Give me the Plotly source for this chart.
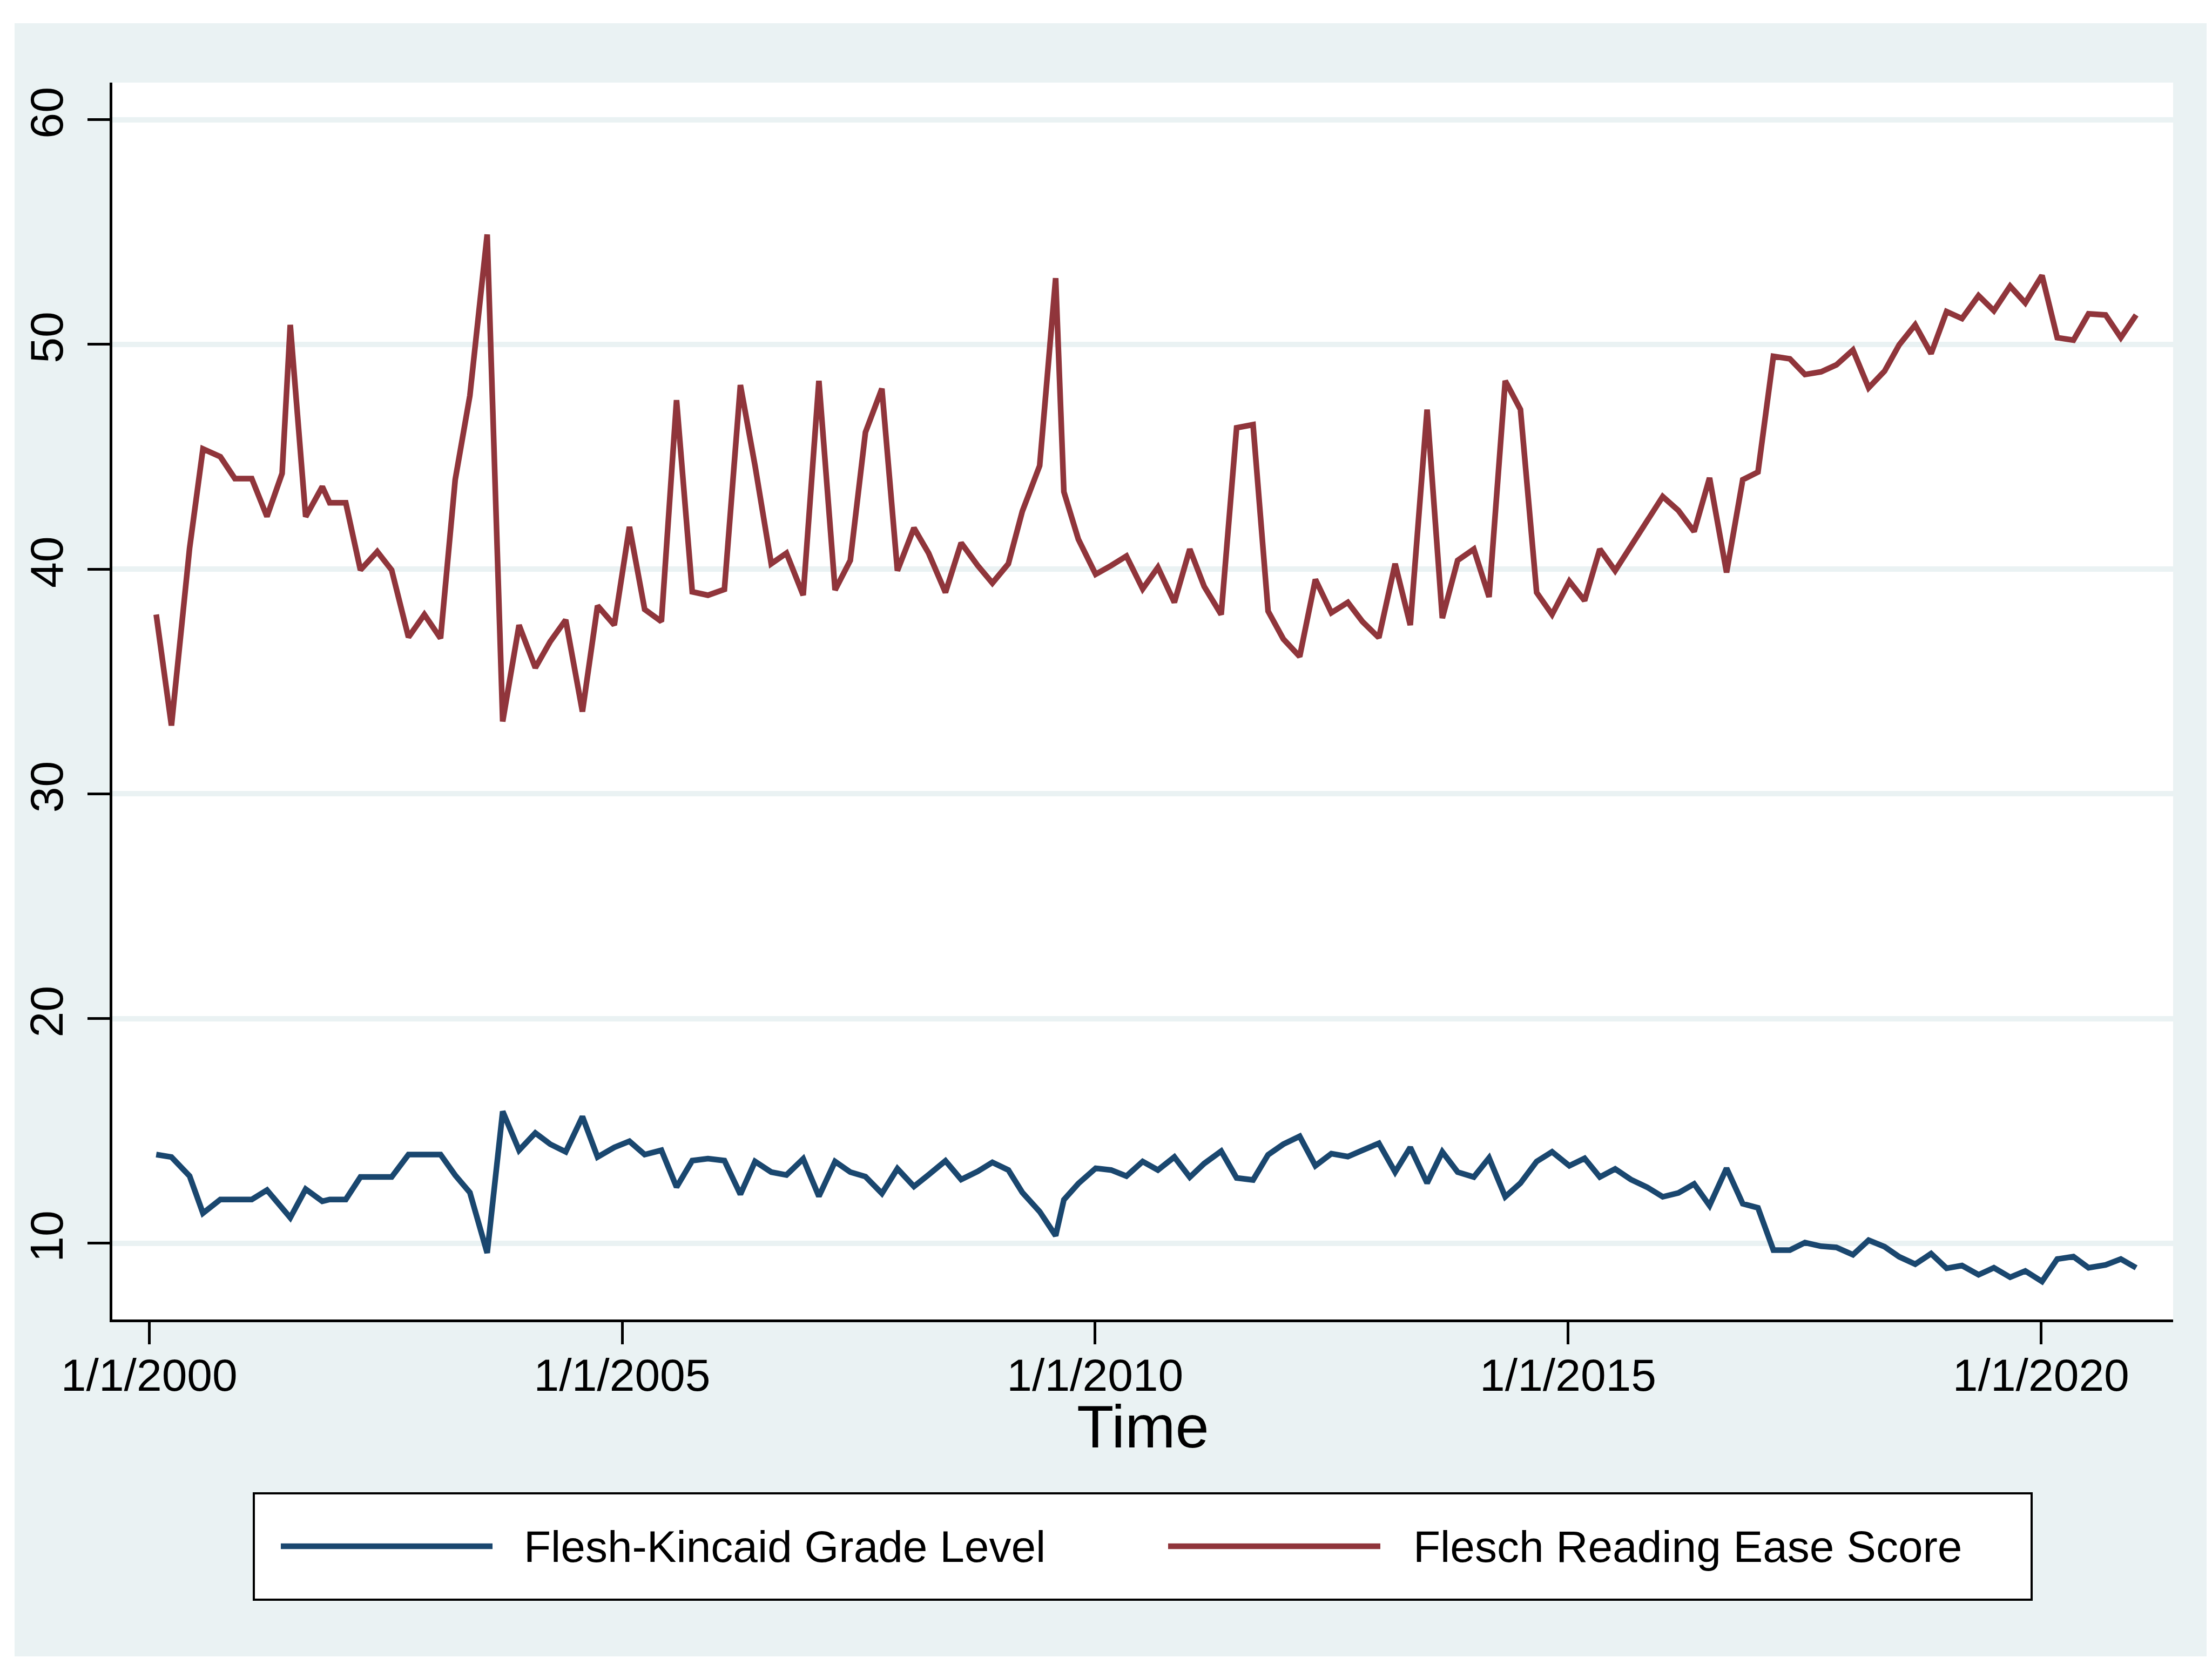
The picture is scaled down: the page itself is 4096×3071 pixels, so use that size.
import plotly.graph_objects as go

# ---------------- data ----------------
time_years = [
    2000.074, 2000.235, 2000.427, 2000.568, 2000.752, 2000.906, 2001.084, 2001.245, 2001.405, 2001.491,
    2001.654, 2001.830, 2001.908, 2002.078, 2002.233, 2002.411, 2002.563, 2002.741, 2002.909, 2003.080,
    2003.235, 2003.390, 2003.573, 2003.737, 2003.910, 2004.082, 2004.240, 2004.403, 2004.580, 2004.740,
    2004.917, 2005.077, 2005.238, 2005.415, 2005.575, 2005.741, 2005.907, 2006.081, 2006.250, 2006.405,
    2006.576, 2006.737, 2006.914, 2007.080, 2007.251, 2007.412, 2007.572, 2007.746, 2007.910, 2008.085,
    2008.240, 2008.418, 2008.584, 2008.759, 2008.914, 2009.083, 2009.231, 2009.414, 2009.583, 2009.670,
    2009.823, 2010.006, 2010.170, 2010.331, 2010.503, 2010.664, 2010.838, 2011.001, 2011.153, 2011.333,
    2011.496, 2011.670, 2011.829, 2011.990, 2012.163, 2012.329, 2012.498, 2012.672, 2012.826, 2013.000,
    2013.172, 2013.332, 2013.510, 2013.671, 2013.833, 2014.004, 2014.165, 2014.336, 2014.497, 2014.668,
    2014.831, 2015.014, 2015.175, 2015.336, 2015.498, 2015.664, 2015.839, 2016.001, 2016.167, 2016.333,
    2016.496, 2016.676, 2016.847, 2017.008, 2017.171, 2017.345, 2017.505, 2017.675, 2017.837, 2018.012,
    2018.178, 2018.346, 2018.501, 2018.670, 2018.838, 2019.002, 2019.165, 2019.340, 2019.502, 2019.674,
    2019.834, 2020.011, 2020.172, 2020.343, 2020.503, 2020.683, 2020.844, 2021.006,
]

flesh_kincaid_grade = [
    13.95, 13.84, 12.99, 11.34, 11.95, 11.95, 11.95, 12.37, 11.60, 11.14,
    12.41, 11.87, 11.95, 11.95, 12.95, 12.95, 12.95, 13.95, 13.95, 13.95,
    13.03, 12.26, 9.57, 15.87, 14.14, 14.91, 14.41, 14.07, 15.64, 13.84,
    14.27, 14.54, 13.95, 14.14, 12.50, 13.68, 13.77, 13.68, 12.18, 13.64,
    13.17, 13.04, 13.76, 12.09, 13.64, 13.17, 12.97, 12.22, 13.32, 12.53,
    13.05, 13.67, 12.84, 13.20, 13.60, 13.26, 12.26, 11.41, 10.34, 11.94,
    12.66, 13.34, 13.26, 12.99, 13.64, 13.26, 13.84, 12.94, 13.55, 14.10,
    12.91, 12.82, 13.94, 14.41, 14.76, 13.45, 13.99, 13.86, 14.14, 14.45,
    13.17, 14.27, 12.68, 14.07, 13.17, 12.95, 13.80, 12.07, 12.68, 13.64,
    14.07, 13.45, 13.78, 12.95, 13.31, 12.84, 12.49, 12.07, 12.24, 12.64,
    11.68, 13.34, 11.76, 11.58, 9.70, 9.70, 10.03, 9.87, 9.82, 9.49,
    10.14, 9.85, 9.40, 9.07, 9.54, 8.89, 9.01, 8.60, 8.91, 8.49,
    8.77, 8.30, 9.30, 9.41, 8.91, 9.04, 9.30, 8.91,
]

flesch_reading_ease = [
    37.98, 33.04, 40.94, 45.35, 45.00, 44.03, 44.03, 42.34, 44.26, 50.87,
    42.33, 43.67, 42.95, 42.95, 39.96, 40.78, 39.96, 36.97, 37.98, 36.92,
    43.98, 47.72, 54.89, 33.22, 37.51, 35.61, 36.78, 37.74, 33.66, 38.37,
    37.51, 41.88, 38.21, 37.67, 47.52, 38.99, 38.84, 39.10, 48.19, 44.60,
    40.24, 40.71, 38.84, 48.38, 39.07, 40.39, 46.09, 48.03, 39.93, 41.83,
    40.71, 38.96, 41.17, 40.16, 39.38, 40.24, 42.58, 44.60, 52.95, 43.44,
    41.33, 39.77, 40.16, 40.58, 39.12, 40.08, 38.52, 40.89, 39.23, 37.98,
    46.29, 46.43, 38.13, 36.89, 36.11, 39.54, 38.06, 38.52, 37.67, 36.95,
    40.24, 37.51, 47.10, 37.82, 40.39, 40.89, 38.76, 48.38, 47.10, 38.96,
    37.98, 39.46, 38.60, 40.89, 39.93, 41.02, 42.11, 43.23, 42.61, 41.67,
    44.06, 39.85, 43.98, 44.32, 49.47, 49.36, 48.66, 48.78, 49.09, 49.75,
    48.07, 48.81, 49.98, 50.87, 49.59, 51.46, 51.15, 52.17, 51.50, 52.59,
    51.85, 53.07, 50.30, 50.19, 51.36, 51.31, 50.30, 51.31,
]

x_tick_vals = [2000, 2005, 2010, 2015, 2020]
x_tick_text = ["1/1/2000", "1/1/2005", "1/1/2010", "1/1/2015", "1/1/2020"]
y_tick_vals = [10, 20, 30, 40, 50, 60]
series_names = ["Flesh-Kincaid Grade Level", "Flesch Reading Ease Score"]
x_title = "Time"

# ---------------- style ----------------
W, H = 4096, 3071
L, R, T, B = 200, 80, 145, 635
PW, PH = W - L - R, H - T - B
BLUE = "#1A476F"
RED = "#90353B"
BG = "#EAF2F3"
FONT = "Liberation Sans, Arial, sans-serif"
LW = 10.5


def px(xp):
    return (xp - L) / PW


def py(yp):
    return (H - B - yp) / PH


fig = go.Figure()
fig.add_trace(go.Scatter(x=time_years, y=flesh_kincaid_grade, mode="lines",
                         name=series_names[0], line=dict(color=BLUE, width=LW),
                         showlegend=False))
fig.add_trace(go.Scatter(x=time_years, y=flesch_reading_ease, mode="lines",
                         name=series_names[1], line=dict(color=RED, width=LW),
                         showlegend=False))

shapes = [
    # graph region background
    dict(type="rect", xref="paper", yref="paper", layer="below",
         x0=px(19), x1=px(4078), y0=py(35), y1=py(3060),
         fillcolor=BG, line=dict(width=0)),
    # white plot region
    dict(type="rect", xref="paper", yref="paper", layer="below",
         x0=0, x1=1, y0=0, y1=1,
         fillcolor="white", line=dict(width=0)),
    # legend box
    dict(type="rect", xref="paper", yref="paper",
         x0=px(462), x1=px(3754), y0=py(2758), y1=py(2955),
         fillcolor="white", line=dict(color="black", width=4)),
    # legend keys
    dict(type="line", xref="paper", yref="paper",
         x0=px(512), x1=px(904), y0=py(2856), y1=py(2856),
         line=dict(color=BLUE, width=LW)),
    dict(type="line", xref="paper", yref="paper",
         x0=px(2155), x1=px(2548), y0=py(2856), y1=py(2856),
         line=dict(color=RED, width=LW)),
]

annotations = [
    dict(text=series_names[0], xref="paper", yref="paper", x=px(960), y=py(2856),
         xanchor="left", yanchor="middle", showarrow=False,
         font=dict(family=FONT, size=82, color="black")),
    dict(text=series_names[1], xref="paper", yref="paper", x=px(2607), y=py(2856),
         xanchor="left", yanchor="middle", showarrow=False,
         font=dict(family=FONT, size=82, color="black")),
    dict(text=x_title, xref="paper", yref="paper", x=0.5, y=py(2634),
         xanchor="center", yanchor="middle", showarrow=False,
         font=dict(family=FONT, size=112, color="black")),
]

fig.update_layout(
    width=W, height=H,
    margin=dict(l=L, r=R, t=T, b=B, pad=0),
    paper_bgcolor="white",
    plot_bgcolor="white",
    font=dict(family=FONT, size=84, color="black"),
    shapes=shapes,
    annotations=annotations,
    showlegend=False,
)

fig.update_xaxes(
    range=[1999.61, 2021.397],
    tickmode="array", tickvals=x_tick_vals, ticktext=x_tick_text,
    showgrid=False, zeroline=False,
    showline=True, linecolor="black", linewidth=5,
    ticks="outside", ticklen=41, tickwidth=4.5, tickcolor="black",
    tickfont=dict(family=FONT, size=84, color="black"),
    ticklabelstandoff=-15,
)
fig.update_yaxes(
    range=[6.61, 61.65],
    tickmode="array", tickvals=y_tick_vals,
    showgrid=True, gridcolor=BG, gridwidth=9.7, zeroline=False,
    showline=True, linecolor="black", linewidth=5,
    ticks="outside", ticklen=41, tickwidth=4.5, tickcolor="black",
    tickangle=-90,
    tickfont=dict(family=FONT, size=86, color="black"),
    ticklabelstandoff=12,
)

fig.write_html("out.html")
